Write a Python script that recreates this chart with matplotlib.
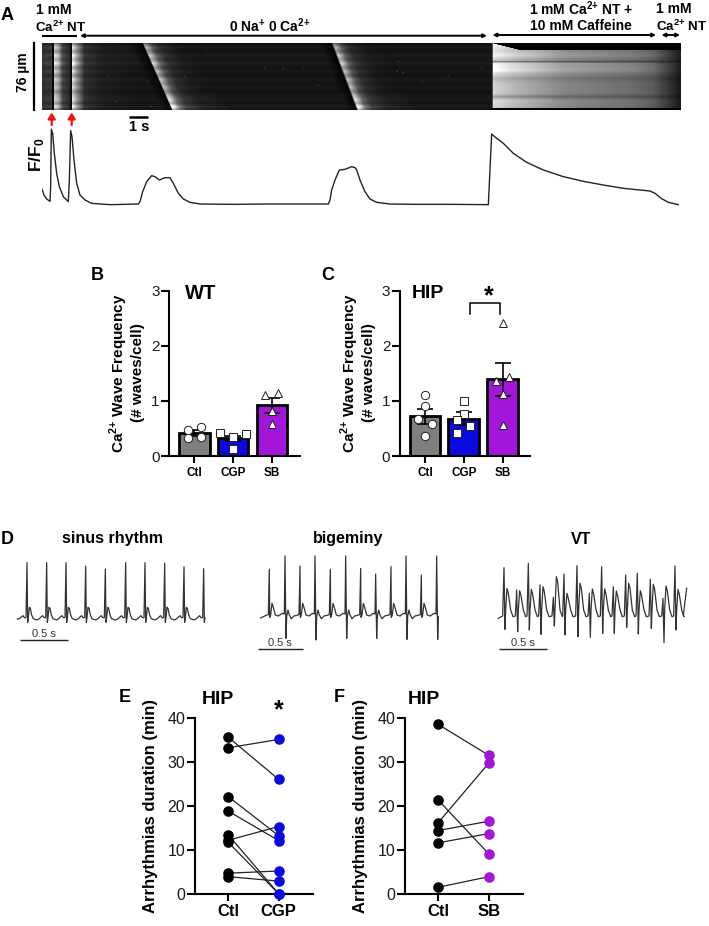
import matplotlib

matplotlib.use("Agg")
import matplotlib.pyplot as plt
import numpy as np

plt.rcParams["font.family"] = ["Liberation Sans", "DejaVu Sans"]
plt.rcParams["mathtext.fontset"] = "custom"
plt.rcParams["mathtext.rm"] = "Liberation Sans"
plt.rcParams["mathtext.bf"] = "Liberation Sans:bold"

W, H = 709, 926

GREY = "#7f7f7f"
BLUE = "#0a0ae0"
PURPLE = "#a316d9"
TEXT = "#1a1a1a"

# Panel A trace (56 units = 1 s, 100 units = 1 F/F0)
trace_x = [126, 132, 140, 150, 152, 154, 158, 163, 170, 178, 190, 205, 208, 212, 216, 222, 230, 240,
           255, 275, 330, 415, 420, 428, 440, 455, 465, 478, 495, 510, 520, 535, 550, 570, 600, 700,
           800, 985, 990, 995, 1005, 1018, 1035, 1055, 1065, 1070, 1080, 1095, 1110, 1130, 1170, 1250,
           1350, 1465, 1468, 1475, 1490, 1510, 1540, 1580, 1630, 1690, 1750, 1810, 1870, 1950, 1965,
           1985, 2005, 2035]
trace_y = [568, 585, 597, 604, 560, 388, 400, 460, 520, 560, 590, 605, 540, 392, 410, 480, 550, 585,
           600, 610, 614, 612, 605, 575, 545, 527, 530, 540, 533, 533, 550, 580, 597, 607, 612, 613,
           612, 612, 600, 570, 540, 510, 508, 500, 503, 510, 540, 575, 597, 607, 612, 613,
           613, 614, 550, 402, 415, 430, 460, 487, 510, 530, 544, 555, 565, 573, 580,
           596, 607, 614]

# Panel A line scan (image rows/columns)
row_knots = [0, 4, 8, 12, 16, 20, 24, 28, 32, 36, 40, 44, 48, 52, 56, 60, 63, 66]
row_gain = [0.6, 1.0, 0.75, 1.1, 0.85, 1.15, 0.75, 1.0, 0.7, 1.0, 0.8, 0.95, 0.7, 0.9, 1.0, 0.75, 1.1, 0.7]
time_knots = [0, 9, 10, 11, 12, 16, 20, 27, 28, 29, 30, 34, 42, 60, 100, 449, 450, 470, 520, 590, 610, 630, 637]
time_level = [0.22, 0.24, 0.04, 0.04, 0.85, 0.7, 0.3, 0.18, 0.05, 0.05, 0.95, 0.65, 0.2, 0.13, 0.1, 0.1,
              0.98, 0.85, 0.62, 0.5, 0.42, 0.2, 0.12]
wave_dist = [-12, -1, 0, 3, 8, 15, 30, 55]
wave_level = [0.1, 0.02, 0.9, 0.75, 0.4, 0.22, 0.13, 0.1]
wave_fronts = [(101, 130), (290, 315)]
caff_knots = [0, 7, 12, 17, 18, 20, 27, 30, 35, 40, 50, 53, 57, 64, 65, 66]
caff_gain = [1.0, 0.9, 1.0, 0.8, 0.55, 1.0, 1.05, 0.9, 0.75, 0.85, 0.85, 0.65, 0.9, 0.85, 0.0, 0.0]
spot_cols = [65, 105, 142, 222, 240, 261, 275, 299, 74, 109, 354, 360, 405, 379, 439, 355]
spot_rows = [32, 38, 33, 24, 25, 24, 42, 51, 58, 63, 28, 29, 32, 38, 24, 18]

# Panels B, C
bar_labels = ["Ctl", "CGP", "SB"]
wt_means = [0.42, 0.32, 0.92]
wt_sem = [0.05, 0.04, 0.14]
wt_x = [[-0.17, 0.18, -0.17, 0.18], [-0.33, 0, 0.33, 0], [-0.17, 0.17, 0, 0]]
wt_y = [[0.47, 0.53, 0.33, 0.35], [0.41, 0.35, 0.40, 0.13], [1.10, 1.15, 0.82, 0.58]]
hip_means = [0.72, 0.68, 1.39]
hip_sem = [0.14, 0.11, 0.30]
hip_x = [[0, 0, -0.17, 0.17, 0], [0, 0, -0.17, 0.17, -0.17], [0, -0.17, 0.17, 0, 0]]
hip_y = [[1.11, 0.90, 0.67, 0.58, 0.36], [1.00, 0.77, 0.65, 0.54, 0.42], [2.41, 1.37, 1.43, 1.13, 0.56]]

# Panel D, digitised (R peak x, top y, bottom y)
sinus_x = [81, 140, 198, 257, 316, 377, 435, 494, 552, 611]
sinus_top = [128, 128, 128, 138, 147, 128, 128, 130, 140, 146]
bigem_x = [88, 135, 180, 225, 271, 317, 362, 407, 453, 498, 544, 590]
bigem_top = [148, 108, 138, 108, 148, 108, 145, 162, 140, 108, 165, 108]
bigem_bottom = [295, 355, 295, 360, 295, 355, 295, 355, 295, 358, 295, 358]
vt_x = [792, 830, 865, 900, 940, 972, 1011, 1048, 1085, 1120, 1157, 1192, 1231, 1269, 1305]
vt_top = [143, 210, 130, 195, 232, 162, 137, 220, 140, 200, 165, 160, 178, 235, 138]
vt_bottom = [328, 335, 330, 343, 318, 345, 350, 352, 340, 340, 322, 342, 325, 368, 330]
vt_t = [205, 212, 208, 200, 170, 220, 190, 207, 207, 213, 190, 212, 193, 198, 208]

# Panels E, F
e_ctl = [35.7, 33.3, 22.2, 18.9, 13.5, 12.3, 11.8, 4.8, 4.0]
e_cgp = [26.1, 35.2, 13.3, 12.2, 0.1, 15.4, 0.1, 5.3, 3.0]
f_ctl = [38.6, 21.4, 16.3, 14.5, 11.7, 1.6]
f_sb = [31.6, 9.2, 29.8, 16.6, 13.8, 4.0]

CA = r"Ca$^{\mathbf{2{+}}}$"


def axes_px(fig, x0, y0, x1, y1):
    # Axes from picture pixels, y counted from the top
    return fig.add_axes([x0 / W, 1 - y1 / H, (x1 - x0) / W, (y1 - y0) / H])


def make_kymo():
    rows, cols = np.mgrid[0:67, 0:638]
    gain = np.interp(np.arange(67), row_knots, row_gain)[:, None]
    base = np.interp(np.arange(638), time_knots, time_level)[None, :].repeat(67, axis=0)
    for f0, f1 in wave_fronts:
        dist = cols - (f0 + (f1 - f0) * rows / 66)
        wave = np.interp(dist, wave_dist, wave_level) * np.interp(rows, [0, 50, 66], [0.85, 0.95, 1.25])
        base = np.where((dist > -12) & (dist < 55), wave, base)
    img = base * gain
    caff = base * np.interp(np.arange(67), caff_knots, caff_gain)[:, None]
    caff[rows < np.clip((cols - 450) / 4, 0, 6.5)] = 0
    img = np.where(cols >= 450, caff, img)
    img[spot_rows, spot_cols] += 0.25
    return img


def bar_panel(fig, x0, x1, means, sem, xs, ys):
    ax = axes_px(fig, x0, 290.7, x1, 456)
    centre = x0 + 25
    ax.set_xlim((x0 - centre) / 38.8, (x1 - centre) / 38.8)
    ax.set_ylim(0, 3)
    ax.bar(range(3), means, width=0.79, color=[GREY, BLUE, PURPLE], edgecolor="black", linewidth=2, zorder=2)
    ax.errorbar(range(3), means, yerr=sem, fmt="none", ecolor="black", elinewidth=1.2, capsize=6, capthick=1.2, zorder=3)
    for x, y, xo, yo, m in zip(range(3), means, xs, ys, ["o", "s", "^"]):
        ax.plot(np.array(xo) + x, yo, m, ms=6, mfc="white", mec="#222222", mew=0.7, ls="none", zorder=4, clip_on=False)
    for side in ["top", "right"]:
        ax.spines[side].set_visible(False)
    for side in ["left", "bottom"]:
        ax.spines[side].set_linewidth(1.5)
    ax.set_xticks(range(3))
    ax.set_xticklabels(bar_labels, fontsize=8.5, fontweight="bold")
    ax.set_yticks([0, 1, 2, 3])
    ax.tick_params(axis="y", labelsize=11, length=6, width=1.5, labelcolor=TEXT, pad=1)
    ax.tick_params(axis="x", length=5, width=1.5, pad=3)
    return ax


def pair_panel(fig, x0, x1, before, after, color, labels):
    ax = axes_px(fig, x0, 718.3, x1, 894.3)
    ax.set_xlim(-33.3 / 50.4, (x1 - x0 - 33.3) / 50.4)
    ax.set_ylim(0, 40)
    for a, b in zip(before, after):
        ax.plot([0, 1], [a, b], color="#222222", lw=0.9, zorder=2)
    ax.plot([0] * len(before), before, "o", ms=6.6, color="black", zorder=3, clip_on=False)
    ax.plot([1] * len(after), after, "o", ms=6.6, color=color, zorder=3, clip_on=False)
    for side in ["top", "right"]:
        ax.spines[side].set_visible(False)
    for side in ["left", "bottom"]:
        ax.spines[side].set_linewidth(1.5)
    ax.set_xticks([0, 1])
    ax.set_xticklabels(labels, fontsize=12, fontweight="bold")
    ax.set_yticks([0, 10, 20, 30, 40])
    ax.tick_params(axis="y", labelsize=11.5, length=6, width=1.5, labelcolor=TEXT, pad=1)
    ax.tick_params(axis="x", length=5, width=1.5, pad=2)
    return ax


def normal_beats(xs, tops, bottoms):
    # P wave, QRS and T wave around each R peak
    px, py = [], []
    for x, top, bottom in zip(xs, tops, bottoms):
        px += [x - 22, x - 16, x - 12, x - 8, x - 3, x, x + 2, x + 4, x + 7, x + 10, x + 14, x + 19, x + 30]
        py += [296, 290, 287, 293, 293, top, bottom + 12, 293, 262, 265, 285, 296, 300]
    return px[:-5], py[:-5]


def bigeminy_beats(xs, tops, bottoms):
    px, py = [62], [294]
    for i, (x, top, bottom) in enumerate(zip(xs, tops, bottoms)):
        if i % 2 == 0 and bottom < 300:
            px += [x - 10, x - 3, x, x + 1, x + 4, x + 8, x + 12, x + 18, x + 27]
            py += [286, 284, top, 292, 285, 250, 262, 285, 288]
        else:
            px += [x - 8, x - 2, x, x + 3, x + 5, x + 9, x + 13, x + 19, x + 27]
            py += [280, 282, top, bottom, 290, 270, 285, 296, 288]
    return px[:-4], py[:-4]


def vt_beats(xs, tops, bottoms, twaves):
    px, py = [775], [295]
    for x, top, bottom, t in zip(xs, tops, bottoms, twaves):
        px += [x - 4, x, x + 3, x + 5, x + 9, x + 13, x + 20, x + 27]
        py += [288, top, bottom, 270, t, t + 15, 270, 290]
    px += [1330, 1340]
    py += [285, 205]
    return px, py


fig = plt.figure(figsize=(W / 100, H / 100), dpi=100)

# Overlay in picture pixels for labels and scale bars
over = fig.add_axes([0, 0, 1, 1], zorder=10)
over.set_xlim(0, W)
over.set_ylim(H, 0)
over.axis("off")


def label(x, y, s, size=10, weight="bold", ha="center", rot=0, color="black"):
    over.text(x, y, s, fontsize=size, fontweight=weight, ha=ha, va="center", rotation=rot, color=color)


def hline(x0, x1, y, lw=1.5, color="black"):
    over.plot([x0, x1], [y, y], color=color, lw=lw, solid_capstyle="butt")


def harrow(x0, x1, y, style="<|-|>"):
    over.annotate("", xy=(x1, y), xytext=(x0, y),
                  arrowprops=dict(arrowstyle=style + ",head_length=0.2,head_width=0.1", color="black", lw=1.4,
                                  shrinkA=0, shrinkB=0))


# Panel letters
for x, y, s in [(7, 15, "A"), (97, 275, "B"), (328, 275, "C"), (7, 540, "D"), (125, 697, "E"), (339, 697, "F")]:
    label(x, y, s, size=13)

# Panel A
label(35.5, 10, "1 mM", ha="left")
label(35, 27, CA + " NT", ha="left", size=9.6)
label(270, 26, r"0 Na$^{\mathbf{{+}}}$ 0 " + CA)
label(581.5, 9, "1 mM " + CA + " NT +")
label(581, 26, "10 mM Caffeine")
label(656.5, 9, "1 mM", ha="left")
label(656.5, 26, CA + " NT", ha="left", size=9.6)
hline(41.5, 77, 35.7)
harrow(80, 487, 35.7)
harrow(492.5, 656, 35)
harrow(661.5, 680, 35)
over.plot([34, 34], [43, 110], color="black", lw=1.6)
label(22.5, 72, "76 µm", rot=90, size=10)
hline(129, 148, 116.7, lw=1.8)
label(139.5, 127, "1 s", size=10.5)
label(36, 155, r"F/F$_{\mathbf{0}}$", rot=90, size=12.5)
for x in [51.7, 71.7]:
    over.annotate("", xy=(x, 112.5), xytext=(x, 125),
                  arrowprops=dict(arrowstyle="-|>,head_length=0.35,head_width=0.22", color="#f01010", lw=1.6,
                                  shrinkA=0, shrinkB=0))

ax_kymo = axes_px(fig, 41.5, 43.3, 680, 110)
ax_kymo.imshow(make_kymo(), cmap="gray", vmin=0, vmax=1, aspect="auto", interpolation="bilinear")
ax_kymo.axis("off")

ax_trace = axes_px(fig, 42, 125, 680, 210)
ax_trace.plot(trace_x, trace_y, color="#222222", lw=1.0)
ax_trace.set_xlim(126, 2040)
ax_trace.set_ylim(630, 375)
ax_trace.axis("off")

# Panel B
bar_panel(fig, 169.3, 300, wt_means, wt_sem, wt_x, wt_y)
label(119, 373, CA + " Wave Frequency", rot=90, size=11)
label(138, 373, "(# waves/cell)", rot=90, size=11)
label(200.5, 293.5, "WT", size=14.5)

# Panel C
ax_c = bar_panel(fig, 400, 530, hip_means, hip_sem, hip_x, hip_y)
ax_c.plot([1.17, 1.17, 1.94, 1.94], [2.58, 2.77, 2.77, 2.58], color="black", lw=1.1)
label(350, 373, CA + " Wave Frequency", rot=90, size=11)
label(369, 373, "(# waves/cell)", rot=90, size=11)
label(427.5, 293.5, "HIP", size=14)
label(489, 296, "*", size=18)

# Panel D
ax_sinus = axes_px(fig, 0, 520, 240, 670)
sx, sy = normal_beats(sinus_x, sinus_top, [295] * len(sinus_x))
ax_sinus.plot([52] + sx, [297] + sy, color="#333333", lw=0.9)
ax_sinus.set_xlim(0, 720)
ax_sinus.set_ylim(450, 0)
ax_sinus.axis("off")

ax_ecg = axes_px(fig, 240, 520, 709, 670)
bx, by = bigeminy_beats(bigem_x, bigem_top, bigem_bottom)
ax_ecg.plot(bx, by, color="#333333", lw=0.9)
vx, vy = vt_beats(vt_x, vt_top, vt_bottom, vt_t)
ax_ecg.plot(vx, vy, color="#333333", lw=0.9)
ax_ecg.set_xlim(0, 1407)
ax_ecg.set_ylim(450, 0)
ax_ecg.axis("off")

label(112.5, 539, "sinus rhythm", size=11.5)
label(348, 539, "bigeminy", size=11.5)
label(581.5, 539, "VT", size=11.5)
for x0, x1, y in [(20, 68, 640.3), (257.5, 303, 649), (498.5, 546.5, 649.3)]:
    hline(x0, x1, y, lw=1.0, color="#222222")
    label((x0 + x1) / 2, y - 6.5, "0.5 s", size=8, weight="normal", color="#333333")

# Panels E, F
pair_panel(fig, 195, 313, e_ctl, e_cgp, BLUE, ["Ctl", "CGP"])
label(150.5, 806, "Arrhythmias duration (min)", rot=90, size=12)
label(218, 700, "HIP", size=14)
label(279, 710, "*", size=18)

pair_panel(fig, 405, 523, f_ctl, f_sb, PURPLE, ["Ctl", "SB"])
label(360.5, 806, "Arrhythmias duration (min)", rot=90, size=12)
label(424, 700, "HIP", size=14)

fig.savefig("out.png", dpi=100)
